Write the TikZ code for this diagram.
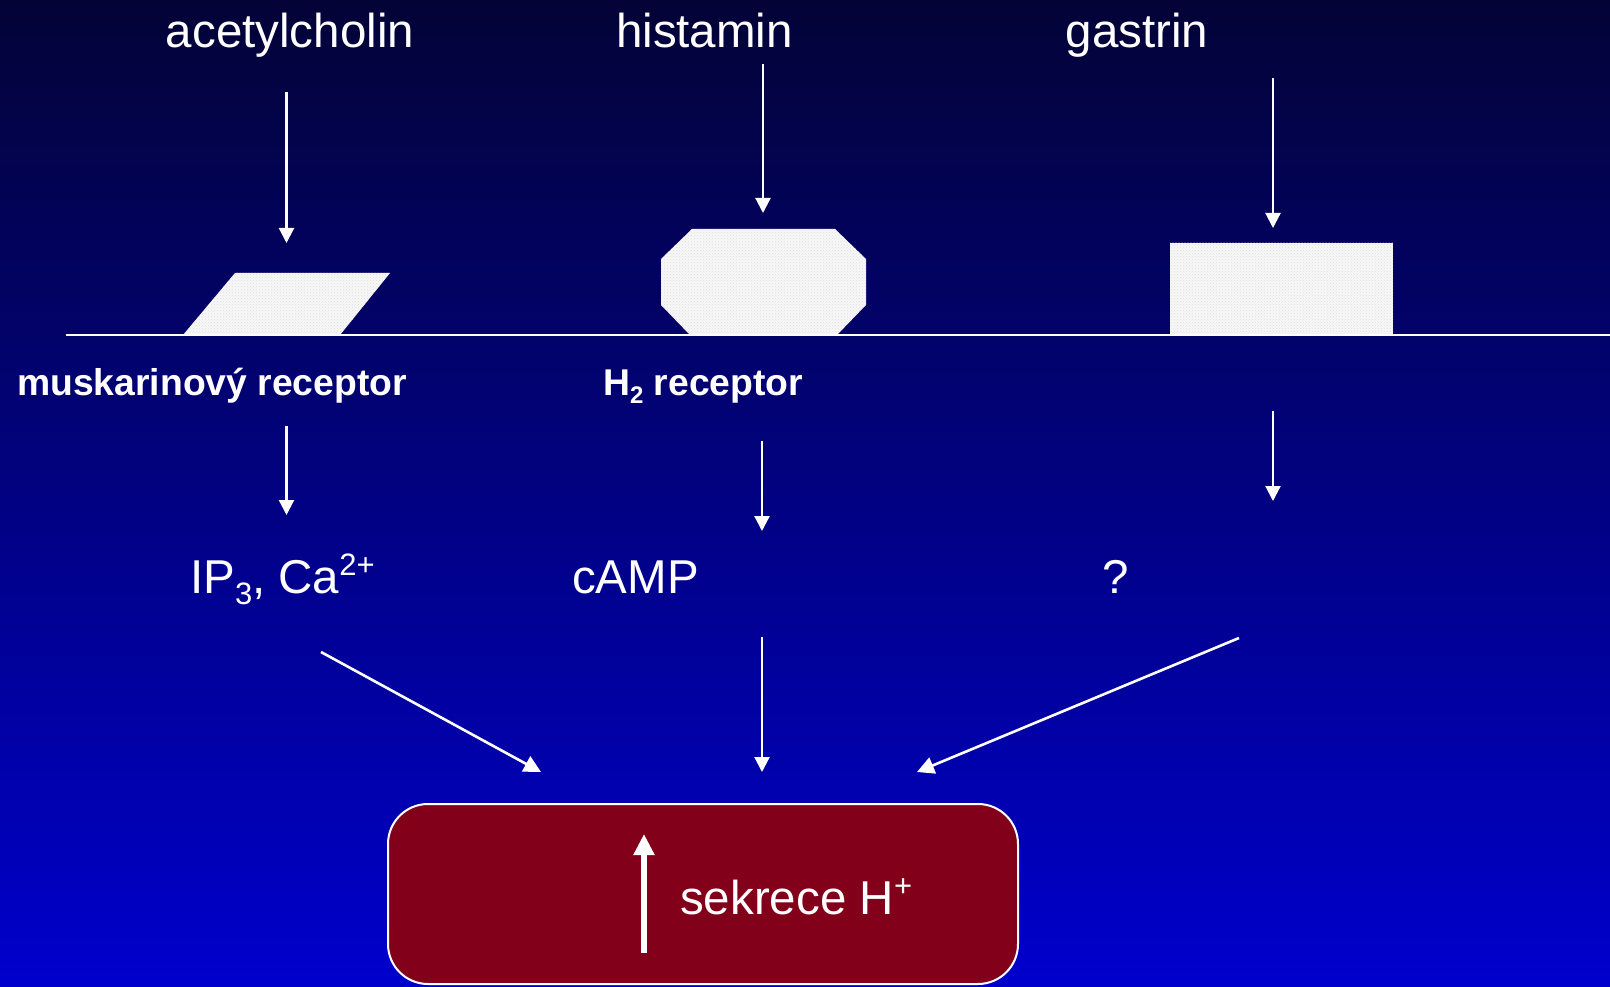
\documentclass[tikz,border=0pt]{standalone}
\usepackage{fontspec}
\setmainfont{Liberation Sans}
\usetikzlibrary{arrows.meta,patterns}
\definecolor{bgtop}{RGB}{3,3,55}
\definecolor{bgbot}{RGB}{0,0,205}
\definecolor{boxred}{RGB}{130,0,25}
\definecolor{shapefill}{RGB}{247,247,247}
\newcommand{\mysub}[1]{\raisebox{-0.24em}{\fontsize{31}{31}\selectfont #1}}
\newcommand{\mysupr}[1]{\raisebox{0.36em}{\fontsize{31}{31}\selectfont #1}}
\newcommand{\bsub}[1]{\raisebox{-0.22em}{\fontsize{24}{24}\selectfont #1}}
\tikzset{
  lbl/.style={text=white, inner sep=0pt, anchor=base, font=\fontsize{47.5}{50}\selectfont},
  lblw/.style={lbl, anchor=base west},
  blbl/.style={text=white, inner sep=0pt, anchor=base west, font=\bfseries\fontsize{37.3}{40}\selectfont},
  arr/.style={draw=white, line width=2.2pt, -{Triangle[width=15pt,length=15pt]}},
  darr/.style={draw=white, line width=2.6pt, -{Triangle[width=17pt,length=17pt]}},
  recshape/.style={fill=shapefill},
  recpat/.style={pattern=crosshatch dots, pattern color=gray!25},
}
\begin{document}
\begin{tikzpicture}[x=1pt,y=-1pt]
\useasboundingbox (0,0) rectangle (1610,987);
\shade[top color=bgtop, bottom color=bgbot] (0,0) rectangle (1610,987);

% receptor shapes
\fill[recshape] (183,335) -- (340,335) -- (390,273) -- (235,273) -- cycle;
\fill[recpat] (183,335) -- (340,335) -- (390,273) -- (235,273) -- cycle;
\fill[recshape] (692,229) -- (835,229) -- (866,259) -- (866,305) -- (837,335) -- (690,335) -- (661,305) -- (661,259) -- cycle;
\fill[recpat] (692,229) -- (835,229) -- (866,259) -- (866,305) -- (837,335) -- (690,335) -- (661,305) -- (661,259) -- cycle;
\fill[recshape] (1170,243) rectangle (1393,335);
\fill[recpat] (1170,243) rectangle (1393,335);

% membrane
\coordinate (mL) at (66,335);
\coordinate (mR) at (1610,335);
\draw[white, line width=2pt] (mL) -- (mR);

% texts
\node[lbl] (ach) at (290,48) {acetylcholin};
\node[lbl] (his) at (704.5,48) {histamin};
\node[lbl] (gas) at (1137,48) {gastrin};
\node[blbl] (mus) at (17,395) {muskarinový receptor};
\node[blbl] (htwo) at (603,395) {H\bsub{2} receptor};
\node[lblw] (ip) at (190,593) {IP\mysub{3}, Ca\mysupr{2+}};
\node[lblw] (camp) at (572,593) {cAMP};
\node[lbl] (q) at (1116,593) {?};

% arrow end points
\coordinate (a1s) at (286.5,92);  \coordinate (a1e) at (286.5,243);
\coordinate (h1s) at (763,64);    \coordinate (h1e) at (763,213);
\coordinate (g1s) at (1273,78);   \coordinate (g1e) at (1273,228);
\coordinate (a2s) at (286.5,426); \coordinate (a2e) at (286.5,515);
\coordinate (h2s) at (762,441);   \coordinate (h2e) at (762,531);
\coordinate (g2s) at (1273,411);  \coordinate (g2e) at (1273,501);
\coordinate (a3s) at (321,652);   \coordinate (a3e) at (541,772);
\coordinate (h3s) at (762,637);   \coordinate (h3e) at (762,772);
\coordinate (g3s) at (1239,638);  \coordinate (g3e) at (917,772);

\draw[arr] (a1s) -- (a1e);
\draw[arr] (h1s) -- (h1e);
\draw[arr] (g1s) -- (g1e);
\draw[arr] (a2s) -- (a2e);
\draw[arr] (h2s) -- (h2e);
\draw[arr] (g2s) -- (g2e);
\draw[darr] (a3s) -- (a3e);
\draw[arr] (h3s) -- (h3e);
\draw[darr] (g3s) -- (g3e);

% secretion box
\node[draw=white, line width=2pt, fill=boxred, rounded corners=40pt,
      minimum width=630pt, minimum height=180pt, inner sep=0pt] (box) at (703,894) {};
\coordinate (upS) at (644,953);
\coordinate (upE) at (644,834);
\draw[white, line width=6pt, -{Triangle[width=20pt,length=21pt]}] (upS) -- (upE);
\node[lblw] (sek) at (680,914) {sekrece H\mysupr{+}};
\end{tikzpicture}
\end{document}
